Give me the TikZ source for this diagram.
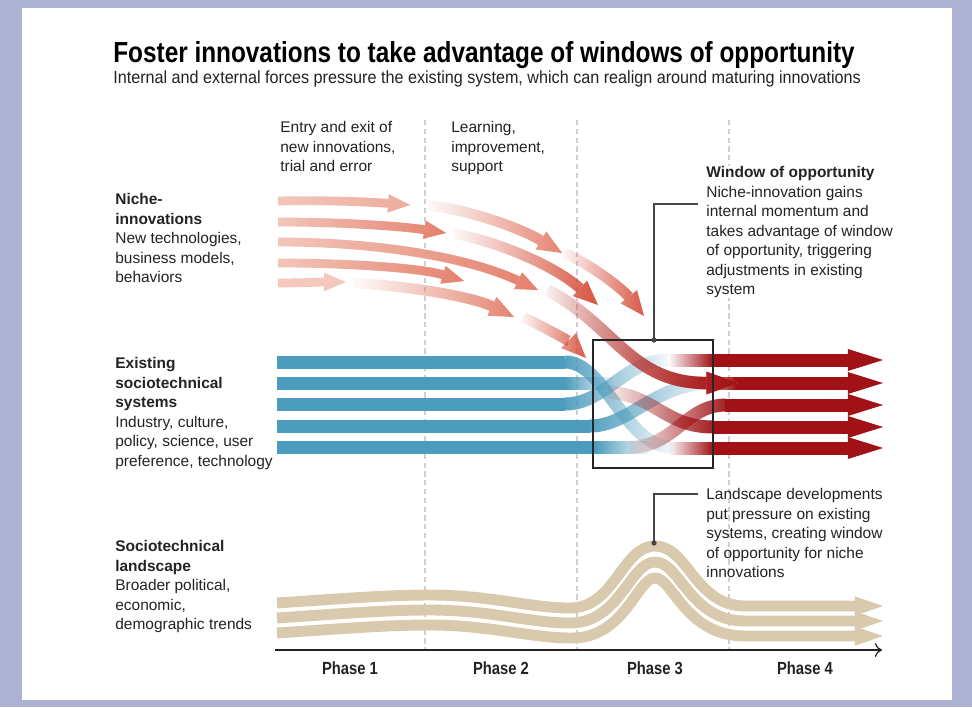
\documentclass[tikz,border=0pt]{standalone}
\usepackage{fontspec}
\setmainfont{Liberation Sans}
\newfontfamily\condfont[FakeStretch=0.84]{Liberation Sans}
\newfontfamily\subfont[FakeStretch=0.92]{Liberation Sans}
\usetikzlibrary{arrows.meta, fadings}
\definecolor{mybg}{RGB}{174,178,210}
\definecolor{myblue}{RGB}{76,156,189}
\definecolor{mydarkred}{RGB}{160,18,22}
\definecolor{myorange}{RGB}{214,78,56}
\definecolor{mypink}{RGB}{244,200,188}
\definecolor{mymidpink}{RGB}{228,128,108}
\definecolor{mybeige}{RGB}{217,201,173}
\definecolor{mygray}{RGB}{208,208,208}
\definecolor{mylead}{RGB}{70,70,70}
\definecolor{mytext}{RGB}{35,35,35}
\tikzfading[name=fadein, left color=transparent!100, right color=transparent!0]
\tikzfading[name=fadeout, left color=transparent!0, right color=transparent!100]
\tikzfading[name=fadelate, left color=transparent!100, middle color=transparent!100, right color=transparent!0]
\begin{document}
\begin{tikzpicture}[x=0.02cm, y=-0.02cm,
  lbl/.style={anchor=north west, inner sep=0pt, align=left, text=mytext, font=\fontsize{8.8}{11.1}\selectfont},
  phase/.style={inner sep=0pt, text=mytext, font=\condfont\bfseries\fontsize{10}{12}\selectfont},
  blueband/.style={myblue, line width=7.4pt},
  redband/.style={mydarkred, line width=7.4pt, -{Triangle[width=12.5pt,length=20pt,line width=0pt]}},
  pinkarrow/.style={line width=5pt, -{Triangle[width=10.5pt,length=12.5pt,line width=0pt]}},
  bigarrow/.style={line width=6pt, -{Triangle[width=12pt,length=14pt,line width=0pt]}},
  landband/.style={mybeige, line width=6.2pt, -{Triangle[width=11pt,length=16pt,line width=0pt]}},
  leader/.style={mylead, line width=0.7pt}]
\useasboundingbox (0,0) rectangle (972,707);
\fill[mybg] (0,0) rectangle (972,707);
\fill[white] (22,8) rectangle (952,700);

% phase borders
\foreach \x in {425,577,729}
  \draw[mygray, line width=0.6pt, dash pattern=on 3pt off 2pt] (\x,120) -- (\x,650);

% existing system
\foreach \y/\e in {362/565,383/565,404/565,426/590,447/595}
  \draw[blueband] (277,\y) -- (\e,\y);
\draw[blueband, path fading=fadeout] (565,362) .. controls (605,362) and (625,447) .. (672,447);
\fill[myblue, path fading=fadeout] (565,376.5) rectangle (615,389.5);
\draw[blueband, path fading=fadeout] (565,404) .. controls (605,404) and (625,360) .. (668,360);
\draw[blueband, path fading=fadeout] (590,426) .. controls (630,426) and (655,383) .. (712,383);
\fill[myblue, path fading=fadeout] (595,440.5) rectangle (652,453.5);

% niche innovations, phase 1
\draw[pinkarrow, mypink] (278,201) .. controls (330,200) and (370,202) .. (410,205);
\draw[pinkarrow, mymidpink, opacity=0.4, path fading=fadein] (278,201) .. controls (330,200) and (370,202) .. (410,205);
\draw[pinkarrow, mypink] (278,222) .. controls (340,222) and (400,226) .. (446,233);
\draw[pinkarrow, mymidpink, path fading=fadein] (278,222) .. controls (340,222) and (400,226) .. (446,233);
\draw[pinkarrow, mypink] (278,242) .. controls (380,242) and (470,258) .. (538,290);
\draw[pinkarrow, mymidpink, path fading=fadein] (278,242) .. controls (380,242) and (470,258) .. (538,290);
\draw[pinkarrow, mypink] (278,263) .. controls (350,263) and (420,268) .. (464,281);
\draw[pinkarrow, mymidpink, path fading=fadein] (278,263) .. controls (350,263) and (420,268) .. (464,281);
\draw[pinkarrow, mypink] (278,283) .. controls (300,283) and (320,282) .. (346,282);

% niche innovations, phase 2
\draw[bigarrow, mymidpink, path fading=fadein] (427,205) .. controls (470,210) and (520,228) .. (562,253);
\draw[bigarrow, myorange, path fading=fadein] (453,233) .. controls (510,245) and (560,270) .. (598,305);
\draw[bigarrow, mymidpink, path fading=fadein] (353,283) .. controls (420,287) and (475,298) .. (514,317);
\draw[bigarrow, myorange, path fading=fadein] (565,253) .. controls (600,270) and (625,292) .. (644,316);
\draw[bigarrow, myorange, path fading=fadein] (523,317) .. controls (550,330) and (570,342) .. (586,358);

% realigned system
\fill[mydarkred, path fading=fadein] (668,353.5) rectangle (713,366.5);
\fill[mydarkred, path fading=fadein] (695,376.5) rectangle (736,389.5);
\fill[mydarkred, path fading=fadein] (668,441.5) rectangle (713,454.5);
\draw[mydarkred, line width=7.4pt, path fading=fadein] (630,447) .. controls (675,447) and (685,405) .. (726,405);
\draw[mydarkred, line width=7.4pt, path fading=fadein] (608,392) .. controls (655,395) and (665,427) .. (713,427);
\foreach \y/\s in {360/712,383/735,405/725,427/712,448/712}
  \draw[redband] (\s,\y) -- (883,\y);
\draw[line width=7pt, myorange, path fading=fadein, -{Triangle[width=13pt,length=18pt,line width=0pt]}] (547,290) .. controls (615,325) and (630,383) .. (738,383);
\draw[line width=7pt, mydarkred, path fading=fadelate, -{Triangle[width=13pt,length=18pt,line width=0pt]}] (547,290) .. controls (615,325) and (630,383) .. (738,383);

% window of opportunity
\draw[black!85, line width=1.1pt] (593,340) rectangle (713,468);
\coordinate (windot) at (654,340);
\coordinate (winend) at (698,204);
\draw[leader] (winend) -| (windot);
\fill[mylead] (windot) circle (2.6);

% landscape
\draw[landband] (277,603) .. controls (350,598) and (390,595) .. (430,595) .. controls (490,595) and (530,608) .. (570,608) .. controls (615,608) and (622,546) .. (655,546) .. controls (688,546) and (695,606) .. (745,606) -- (883,606);
\draw[landband] (277,618) .. controls (350,613) and (390,610) .. (430,610) .. controls (490,610) and (530,623) .. (570,623) .. controls (620,623) and (630,562) .. (655,562) .. controls (680,562) and (690,621) .. (745,621) -- (883,621);
\draw[landband] (277,633) .. controls (350,628) and (390,625) .. (430,625) .. controls (490,625) and (530,638) .. (572,638) .. controls (625,638) and (637,578) .. (655,578) .. controls (673,578) and (685,636) .. (745,636) -- (883,636);
\coordinate (landdot) at (654,543);
\coordinate (landend) at (698,494);
\draw[leader] (landend) -| (landdot);
\fill[mylead] (landdot) circle (2.6);

% time axis
\draw[mytext, line width=0.7pt, -{To[length=4pt,width=8pt]}] (275,650) -- (882,650);
\foreach \x/\n in {350/1,501/2,655/3,805/4}
  \node[phase] (ph\n) at (\x,668) {Phase \n};

% texts
\node[anchor=base west, inner sep=0pt, text=black, font=\condfont\bfseries\fontsize{16.5}{19}\selectfont] (title) at (113,62) {Foster innovations to take advantage of windows of opportunity};
\node[anchor=base west, inner sep=0pt, text=mytext, font=\subfont\fontsize{10}{12}\selectfont] (subtitle) at (113,83) {Internal and external forces pressure the existing system, which can realign around maturing innovations};
\node[lbl] (entrytxt) at (280,121) {Entry and exit of\\new innovations,\\trial and error};
\node[lbl] (learntxt) at (451,121) {Learning,\\improvement,\\support};
\node[lbl] (nichetxt) at (115,193) {\textbf{Niche-}\\\textbf{innovations}\\New technologies,\\business models,\\behaviors};
\node[lbl] (existtxt) at (115,357) {\textbf{Existing}\\\textbf{sociotechnical}\\\textbf{systems}\\Industry, culture,\\policy, science, user\\preference, technology};
\node[lbl] (landlbl) at (115,540) {\textbf{Sociotechnical}\\\textbf{landscape}\\Broader political,\\economic,\\demographic trends};
\node[lbl, fill=white] (wintxt) at (706,166) {\textbf{Window of opportunity}\\Niche-innovation gains\\internal momentum and\\takes advantage of window\\of opportunity, triggering\\adjustments in existing\\system};
\node[lbl] (landtxt) at (706,488) {Landscape developments\\put pressure on existing\\systems, creating window\\of opportunity for niche\\innovations};
\end{tikzpicture}
\end{document}
